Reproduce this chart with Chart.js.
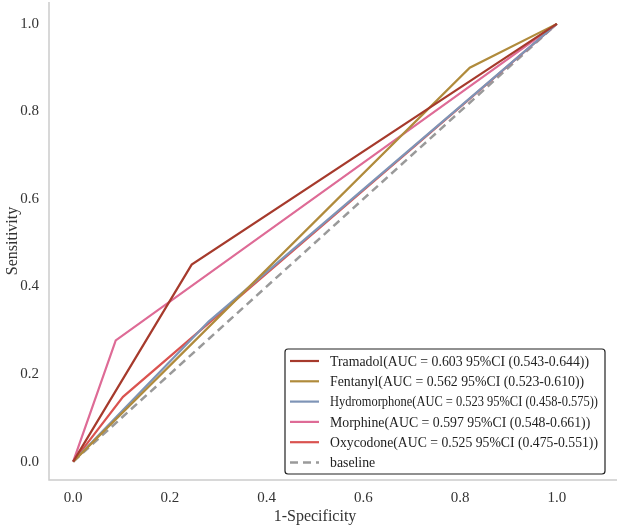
<!DOCTYPE html>
<html>
<head>
<meta charset="utf-8">
<script src="https://cdn.jsdelivr.net/npm/chart.js@4.4.1/dist/chart.umd.min.js"></script>
<style>
  html, body { margin: 0; padding: 0; background: #fff; }
  #wrap { width: 617px; height: 529px; }
</style>
</head>
<body>
<div id="wrap"><canvas id="roc"></canvas></div>
<script>
// ROC points (1-specificity, sensitivity)
var tramadolX = [0, 0.245, 1];
var tramadolY = [0, 0.45, 1];
var fentanylX = [0, 0.82, 1];
var fentanylY = [0, 0.90, 1];
var hydroX = [0, 0.28, 1];
var hydroY = [0, 0.32, 1];
var morphineX = [0, 0.088, 1];
var morphineY = [0, 0.277, 1];
var oxyX = [0, 0.103, 1];
var oxyY = [0, 0.148, 1];
var baseX = [0, 1];
var baseY = [0, 1];

var names = [
  "Tramadol(AUC = 0.603 95%CI (0.543-0.644))",
  "Fentanyl(AUC = 0.562 95%CI (0.523-0.610))",
  "Hydromorphone(AUC = 0.523 95%CI (0.458-0.575))",
  "Morphine(AUC = 0.597 95%CI (0.548-0.661))",
  "Oxycodone(AUC = 0.525 95%CI (0.475-0.551))",
  "baseline"
];
var tickVals = [0, 0.2, 0.4, 0.6, 0.8, 1.0];

function pts(xs, ys) {
  return xs.map(function (x, i) { return { x: x, y: ys[i] }; });
}

var serif = "'Liberation Serif', 'Times New Roman', serif";

function line(label, xs, ys, color, dash) {
  return {
    label: label,
    data: pts(xs, ys),
    borderColor: color,
    backgroundColor: color,
    borderWidth: dash ? 2.5 : 2.2,
    borderDash: dash || [],
    pointRadius: 0,
    tension: 0,
    fill: false
  };
}

// spines: left one, and a bottom one running to the right edge
var spines = {
  id: 'spines',
  beforeDatasetsDraw: function (chart) {
    var c = chart.ctx, a = chart.chartArea;
    c.save();
    c.strokeStyle = '#cccccc';
    c.lineWidth = 1.5;
    c.beginPath();
    c.moveTo(a.left, a.top);
    c.lineTo(a.left, a.bottom);
    c.lineTo(chart.width, a.bottom);
    c.stroke();
    c.restore();
  }
};

// legend box drawn inside the plot, lower right
var boxLegend = {
  id: 'boxLegend',
  afterDatasetsDraw: function (chart) {
    var c = chart.ctx;
    var x0 = 285, y0 = 349, w = 320, h = 125;
    c.save();
    c.fillStyle = 'rgba(255,255,255,0.9)';
    c.strokeStyle = '#222';
    c.lineWidth = 1.2;
    c.beginPath();
    c.roundRect(x0, y0, w, h, 3);
    c.fill();
    c.stroke();
    c.font = '13.8px ' + serif;
    c.textBaseline = 'middle';
    chart.data.datasets.forEach(function (ds, i) {
      var y = y0 + 12 + i * 20.3;
      c.strokeStyle = ds.borderColor;
      c.lineWidth = ds.borderWidth;
      c.setLineDash(ds.borderDash || []);
      c.beginPath();
      c.moveTo(x0 + 5, y);
      c.lineTo(x0 + 34, y);
      c.stroke();
      c.setLineDash([]);
      c.fillStyle = '#222';
      c.fillText(ds.label, x0 + 45, y + 1, 268);
    });
    c.restore();
  }
};

new Chart(document.getElementById('roc'), {
  type: 'line',
  data: {
    datasets: [
      line(names[0], tramadolX, tramadolY, '#a63a2c'),
      line(names[1], fentanylX, fentanylY, '#b08b3c'),
      line(names[2], hydroX, hydroY, '#7e94b6'),
      line(names[3], morphineX, morphineY, '#de6b96'),
      line(names[4], oxyX, oxyY, '#da5350'),
      line(names[5], baseX, baseY, '#9a9a9a', [8, 5])
    ]
  },
  options: {
    responsive: true,
    maintainAspectRatio: false,
    animation: false,
    layout: { padding: { top: 2, right: 36, left: 0, bottom: 0 } },
    plugins: {
      legend: { display: false },
      tooltip: { enabled: false }
    },
    scales: {
      x: {
        type: 'linear',
        min: -0.05,
        max: 1.05,
        afterBuildTicks: function (s) { s.ticks = tickVals.map(function (v) { return { value: v }; }); },
        afterFit: function (s) { s.height = 49; s.paddingLeft = 0; s.paddingRight = 0; },
        grid: { display: false, drawTicks: false },
        border: { display: false },
        ticks: {
          padding: 9,
          color: '#333',
          font: { family: serif, size: 15 },
          callback: function (v) { return v.toFixed(1); }
        },
        title: {
          display: true,
          text: '1-Specificity',
          color: '#333',
          padding: { top: 0, bottom: 3 },
          font: { family: serif, size: 16 }
        }
      },
      y: {
        type: 'linear',
        min: -0.042,
        max: 1.05,
        afterBuildTicks: function (s) { s.ticks = tickVals.map(function (v) { return { value: v }; }); },
        afterFit: function (s) { s.width = 49; s.paddingTop = 0; s.paddingBottom = 0; },
        grid: { display: false, drawTicks: false },
        border: { display: false },
        ticks: {
          padding: 10,
          color: '#333',
          font: { family: serif, size: 15 },
          callback: function (v) { return v.toFixed(1); }
        },
        title: {
          display: true,
          text: 'Sensitivity',
          color: '#333',
          padding: { top: 3, bottom: 0 },
          font: { family: serif, size: 16 }
        }
      }
    }
  },
  plugins: [spines, boxLegend]
});
</script>
</body>
</html>
